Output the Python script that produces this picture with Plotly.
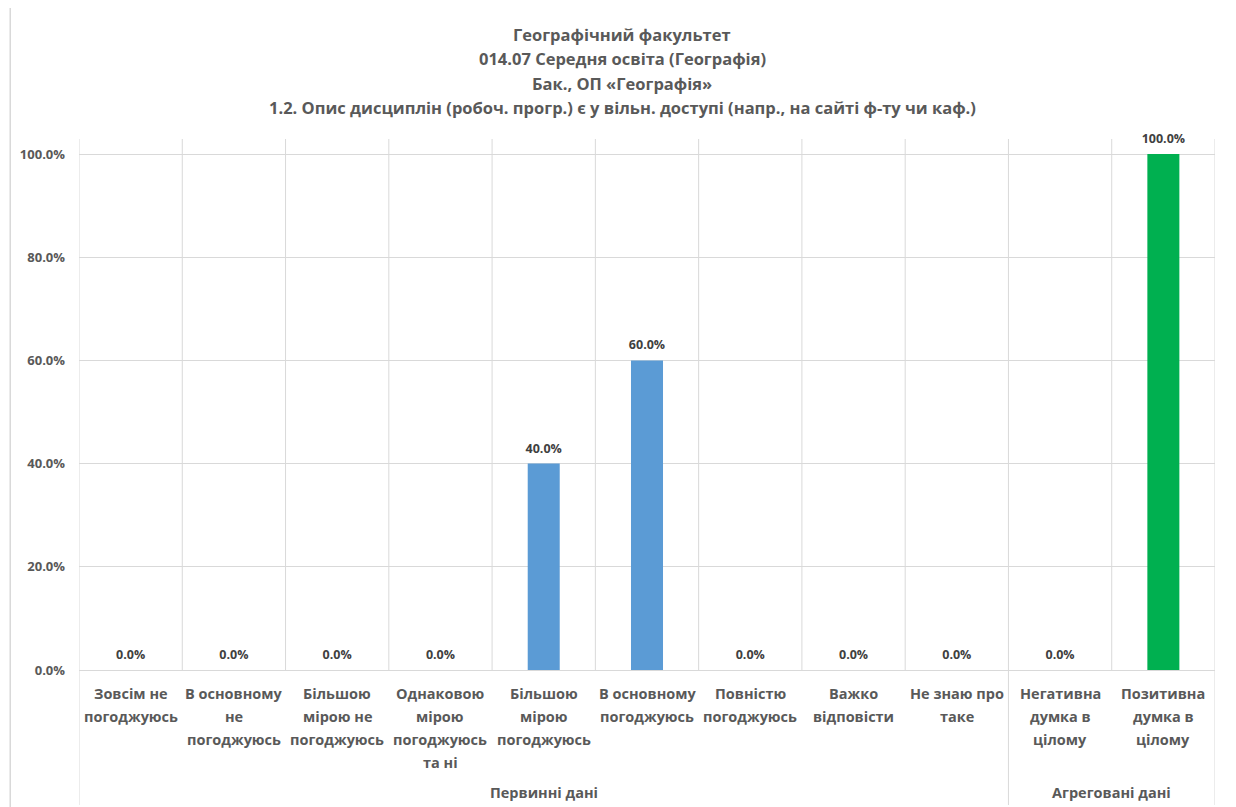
import plotly.graph_objects as go

title_lines = [
    "Географічний факультет",
    "014.07 Середня освіта (Географія)",
    "Бак., ОП «Географія»",
    "1.2. Опис дисциплін (робоч. прогр.) є у вільн. доступі (напр., на сайті ф-ту чи каф.)",
]
categories = [
    "Зовсім не<br>погоджуюсь",
    "В основному<br>не<br>погоджуюсь",
    "Більшою<br>мірою не<br>погоджуюсь",
    "Однаковою<br>мірою<br>погоджуюсь<br>та ні",
    "Більшою<br>мірою<br>погоджуюсь",
    "В основному<br>погоджуюсь",
    "Повністю<br>погоджуюсь",
    "Важко<br>відповісти",
    "Не знаю про<br>таке",
    "Негативна<br>думка в<br>цілому",
    "Позитивна<br>думка в<br>цілому",
]
values = [0.0, 0.0, 0.0, 0.0, 0.4, 0.6, 0.0, 0.0, 0.0, 0.0, 1.0]
groups = ["Первинні дані"] * 9 + ["Агреговані дані"] * 2
group_names = ["Первинні дані", "Агреговані дані"]
group_colors = {"Первинні дані": "#5B9BD5", "Агреговані дані": "#00B050"}
y_ticks = [0.0, 0.2, 0.4, 0.6, 0.8, 1.0]

OFF = 8  # default page body margin
W, H = 1236 - OFF, 807 - OFF
# plot area in page pixels
L, R, T, B = 75, 1215, 139, 670
pw, ph = R - L, B - T
FONT = "Open Sans"
GRID = "#D9D9D9"
TXT = "#595959"

def py_(py):
    return (B - py) / ph

def px_(px):
    return (px - L) / pw

xs = list(range(len(categories)))
fig = go.Figure()
fig.add_trace(go.Bar(
    x=xs, y=values,
    marker=dict(color=[group_colors[g] for g in groups], line=dict(width=0)),
    hoverinfo="skip",
))
fig.add_trace(go.Scatter(
    x=xs, y=values, mode="markers+text",
    marker=dict(size=11, color="rgba(0,0,0,0)"),
    texttemplate="%{y:.1%}", textposition="top center",
    textfont=dict(family=FONT, size=12.5, color="#404040", weight="bold"),
    cliponaxis=False, hoverinfo="skip",
))

shapes = []
shapes.append(dict(type="rect", xref="paper", yref="paper",
                   x0=px_(6), x1=px_(1230), y0=py_(830), y1=py_(6),
                   line=dict(color="#D9D9D9", width=1.5), fillcolor="rgba(0,0,0,0)", layer="below"))
n = len(categories)
for k in range(n + 1):
    xb = k - 0.5
    is_group_edge = (k == 0 or k == n or groups[k - 1] != groups[k])
    y0 = py_(805) if is_group_edge else 0
    shapes.append(dict(type="line", xref="x", yref="paper", x0=xb, x1=xb,
                       y0=y0, y1=1, line=dict(color=GRID, width=1), layer="below"))

annotations = []
title_y = [35, 59, 83, 107]
for line, py in zip(title_lines, title_y):
    annotations.append(dict(text=line, xref="paper", yref="paper",
                            x=px_(620), y=py_(py), xanchor="center", yanchor="middle",
                            showarrow=False, font=dict(family=FONT, size=16.5, color=TXT, weight="bold")))
line_y = [693, 716, 739, 762]
for i, cat in enumerate(categories):
    for j, part in enumerate(cat.split("<br>")):
        annotations.append(dict(text=part, xref="x", yref="paper", x=i, y=py_(line_y[j]),
                                xanchor="center", yanchor="middle", showarrow=False,
                                font=dict(family=FONT, size=14.5, color=TXT, weight="bold")))
for g in group_names:
    idx = [i for i, gg in enumerate(groups) if gg == g]
    annotations.append(dict(text=g, xref="x", yref="paper", x=(idx[0] + idx[-1]) / 2,
                            y=py_(792), xanchor="center", yanchor="middle", showarrow=False,
                            font=dict(family=FONT, size=14.5, color=TXT, weight="bold")))

fig.update_layout(
    width=W, height=H,
    margin=dict(l=L - OFF, r=W - (R - OFF), t=T - OFF, b=H - (B - OFF), pad=0),
    paper_bgcolor="white", plot_bgcolor="white",
    showlegend=False, bargap=0.69,
    xaxis=dict(range=[-0.5, n - 0.5], showticklabels=False, showgrid=False,
               zeroline=False, showline=False, ticks="", fixedrange=True),
    yaxis=dict(range=[0, (B - T) / 516], tickvals=y_ticks, tickformat=".1%",
               showgrid=True, gridcolor=GRID, gridwidth=1, zeroline=True,
               zerolinecolor=GRID, zerolinewidth=1, showline=False, ticks="",
               ticklabelstandoff=13,
               tickfont=dict(family=FONT, size=13, color=TXT, weight="bold")),
    shapes=shapes, annotations=annotations,
)
fig.write_html("out.html")
